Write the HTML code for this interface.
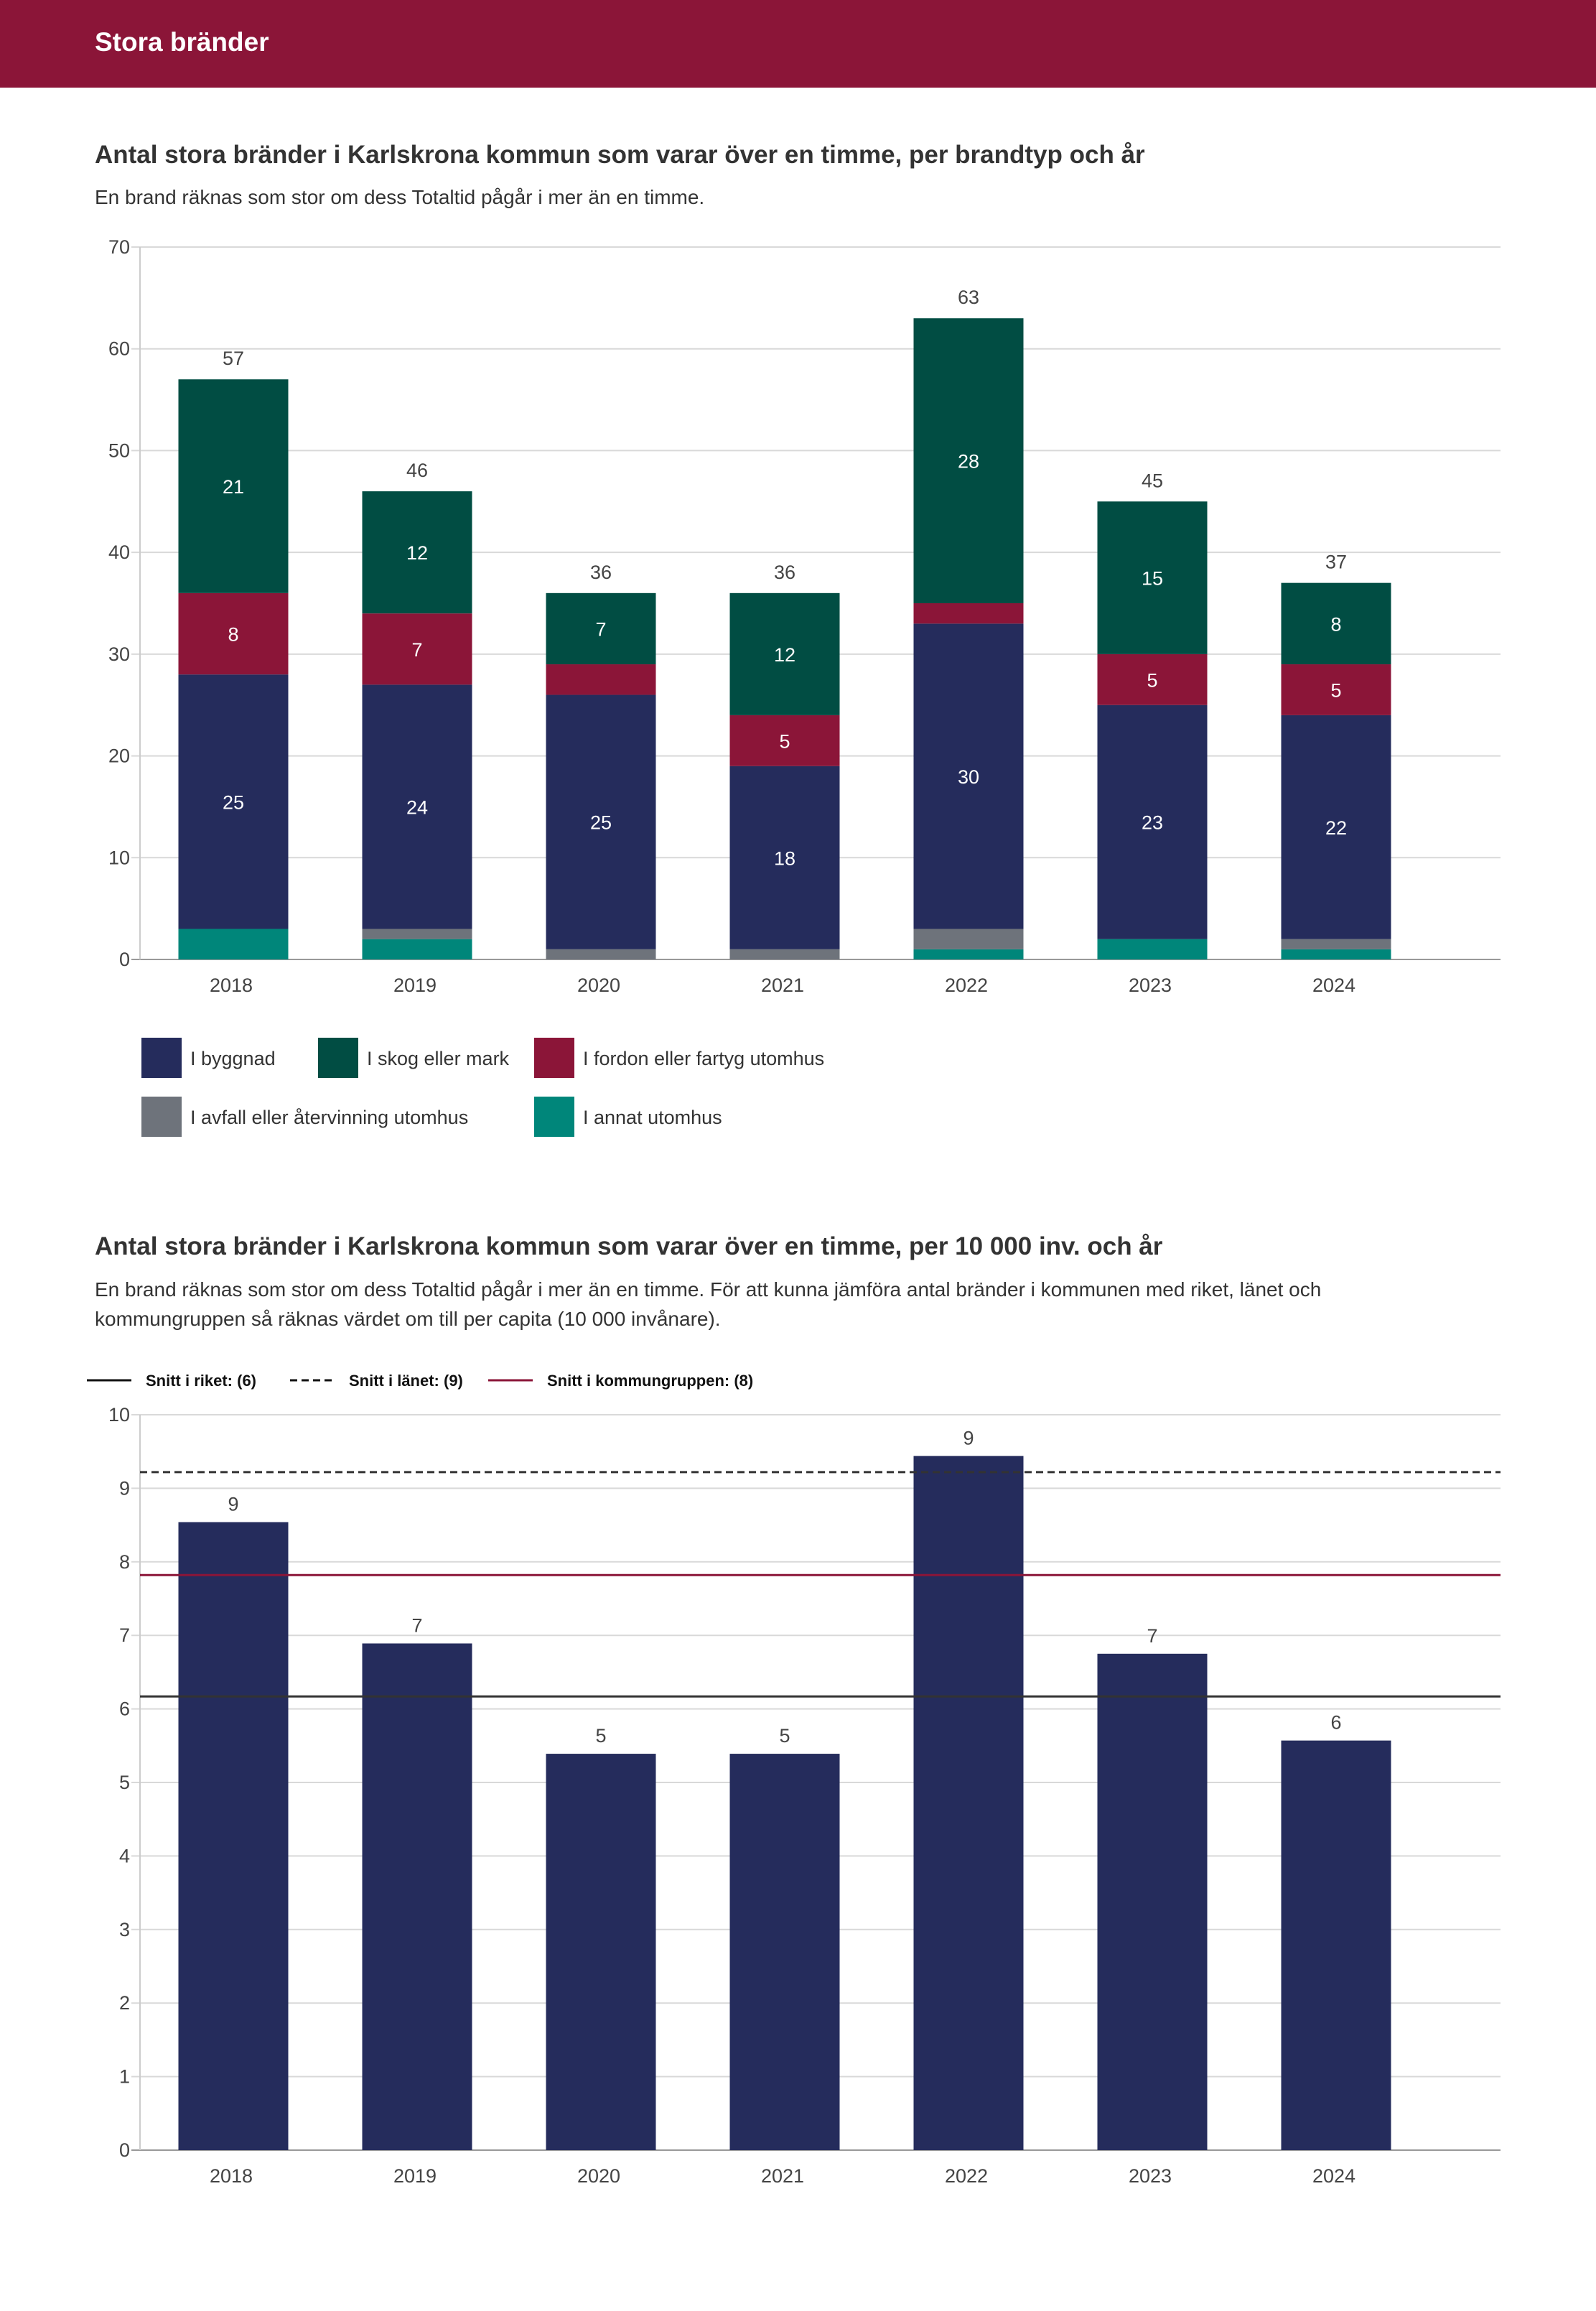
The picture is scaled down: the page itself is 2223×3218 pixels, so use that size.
<!DOCTYPE html>
<html><head><meta charset="utf-8">
<style>
html,body{margin:0;padding:0;background:#fff;}
body{width:2223px;height:3213px;overflow:hidden;font-family:"Liberation Sans",sans-serif;}
svg text{font-family:"Liberation Sans",sans-serif;}
</style></head>
<body>
<svg id="page" width="2223" height="3213" viewBox="0 0 2223 3213" xmlns="http://www.w3.org/2000/svg">
<rect x="0" y="0" width="2223" height="122" fill="#8B1538"/>
<text x="132" y="71" font-size="37" font-weight="bold" fill="#fff">Stora bränder</text>
<text x="132" y="227" font-size="35" font-weight="bold" fill="#333">Antal stora bränder i Karlskrona kommun som varar över en timme, per brandtyp och år</text>
<text x="132" y="284" font-size="28" fill="#333">En brand räknas som stor om dess Totaltid pågår i mer än en timme.</text>
<g id="c1"></g>
<g id="leg1"></g>
<text x="132" y="1747" font-size="35" font-weight="bold" fill="#333">Antal stora bränder i Karlskrona kommun som varar över en timme, per 10 000 inv. och år</text>
<text x="132" y="1805" font-size="28" fill="#333">En brand räknas som stor om dess Totaltid pågår i mer än en timme. För att kunna jämföra antal bränder i kommunen med riket, länet och</text>
<text x="132" y="1846" font-size="28" fill="#333">kommungruppen så räknas värdet om till per capita (10 000 invånare).</text>
<g id="leg2"></g>
<g id="c2"></g>
</svg>
<script>
const years = ["2018","2019","2020","2021","2022","2023","2024"];
const annat = [3,2,0,0,1,2,1];
const avfall = [0,1,1,1,2,0,1];
const byggnad = [25,24,25,18,30,23,22];
const fordon = [8,7,3,5,2,5,5];
const skog = [21,12,7,12,28,15,8];
const ticks1 = [0,10,20,30,40,50,60,70];

const perCapita = [8.54,6.89,5.39,5.39,9.44,6.75,5.57];
const perCapitaLabels = ["9","7","5","5","9","7","6"];
const ticks2 = [0,1,2,3,4,5,6,7,8,9,10];
const snittRiket = 6.17;
const snittLanet = 9.22;
const snittKommungrupp = 7.82;

const NS="http://www.w3.org/2000/svg";
function mk(parent,tag,attrs,txt){const e=document.createElementNS(NS,tag);for(const k in attrs)e.setAttribute(k,attrs[k]);if(txt!==undefined)e.textContent=txt;parent.appendChild(e);return e;}

// Chart 1
const c1=document.getElementById('c1');
const L1=195,R1=2090,T1=344,B1=1336,max1=70;
const y1=v=>B1-(v/max1)*(B1-T1);
const x1=i=>325+256*i;
const bw=153;
ticks1.forEach(t=>{
  const g=mk(c1,'line',{x1:L1-12,x2:R1,y1:y1(t),y2:y1(t),stroke:t===0?'#999':'#d9d9d9','stroke-width':2});
  
  
  const l=mk(c1,'text',{x:L1-14,y:y1(t)+9,'text-anchor':'end','font-size':27,fill:'#444'},t);
  
  
});
const ax=mk(c1,'line',{x1:L1,x2:L1,y1:T1,y2:B1,stroke:'#ccc','stroke-width':2});


const series=[{n:'annat',d:annat,c:'#00867A'},{n:'avfall',d:avfall,c:'#6E737B'},{n:'byggnad',d:byggnad,c:'#252C5C'},{n:'fordon',d:fordon,c:'#8B1538'},{n:'skog',d:skog,c:'#014D43'}];
years.forEach((yr,i)=>{
  let acc=0;
  series.forEach(s=>{
    const v=s.d[i];
    if(v>0){
      const r=mk(c1,'rect',{x:x1(i)-bw/2,y:y1(acc+v),width:bw,height:y1(acc)-y1(acc+v),fill:s.c});
      
      
      if(v>=4){
        const t=mk(c1,'text',{x:x1(i),y:y1(acc+v/2)+10,'text-anchor':'middle','font-size':27,fill:'#fff'},v);
        
        
      }
    }
    acc+=v;
  });
  const tl=mk(c1,'text',{x:x1(i),y:y1(acc)-20,'text-anchor':'middle','font-size':27,fill:'#444'},acc);
  
  
  const xl=mk(c1,'text',{x:x1(i)-3,y:B1+45,'text-anchor':'middle','font-size':27,fill:'#444'},yr);
  
  
});

// Legend 1
const leg1=document.getElementById('leg1');
const items1=[["I byggnad","#252C5C",197,1445],["I skog eller mark","#014D43",443,1445],["I fordon eller fartyg utomhus","#8B1538",744,1445],["I avfall eller återvinning utomhus","#6E737B",197,1527],["I annat utomhus","#00867A",744,1527]];
items1.forEach(it=>{
  const r=mk(leg1,'rect',{x:it[2],y:it[3],width:56,height:56,fill:it[1]});
  
  
  const t=mk(leg1,'text',{x:it[2]+68,y:it[3]+38,'font-size':27,fill:'#333'},it[0]);
  
  
});

// Legend 2
const leg2=document.getElementById('leg2');
const items2=[["Snitt i riket: (6)",121,'#111',null],["Snitt i länet: (9)",404,'#111','10,6'],["Snitt i kommungruppen: (8)",680,'#8B1538',null]];
items2.forEach(it=>{
  const a={x1:it[1],x2:it[1]+62,y1:1922,y2:1922,stroke:it[2],'stroke-width':3};
  if(it[3])a['stroke-dasharray']=it[3];
  const l=mk(leg2,'line',a);
  
  
  const t=mk(leg2,'text',{x:it[1]+82,y:1930,'font-size':22,'font-weight':'bold',fill:'#111'},it[0]);
  
  
});

// Chart 2
const c2=document.getElementById('c2');
const T2=1970,B2=2994,max2=10;
const y2=v=>B2-(v/max2)*(B2-T2);
ticks2.forEach(t=>{
  const g=mk(c2,'line',{x1:L1-12,x2:R1,y1:y2(t),y2:y2(t),stroke:t===0?'#999':'#d9d9d9','stroke-width':2});
  
  
  const l=mk(c2,'text',{x:L1-14,y:y2(t)+9,'text-anchor':'end','font-size':27,fill:'#444'},t);
  
  
});
const ax2=mk(c2,'line',{x1:L1,x2:L1,y1:T2,y2:B2,stroke:'#ccc','stroke-width':2});


years.forEach((yr,i)=>{
  const r=mk(c2,'rect',{x:x1(i)-bw/2,y:y2(perCapita[i]),width:bw,height:B2-y2(perCapita[i]),fill:'#252C5C'});
  
  
  const t=mk(c2,'text',{x:x1(i),y:y2(perCapita[i])-16,'text-anchor':'middle','font-size':27,fill:'#444'},perCapitaLabels[i]);
  
  
  const xl=mk(c2,'text',{x:x1(i)-3,y:B2+45,'text-anchor':'middle','font-size':27,fill:'#444'},yr);
  
  
});
const refs=[[snittRiket,'#333',null,'riket-line'],[snittLanet,'#333','10,6','lanet-line'],[snittKommungrupp,'#8B1538',null,'kommungrupp-line']];
refs.forEach(r=>{
  const a={x1:L1,x2:R1,y1:y2(r[0]),y2:y2(r[0]),stroke:r[1],'stroke-width':3};
  if(r[2])a['stroke-dasharray']=r[2];
  const l=mk(c2,'line',a);
  
  
});
</script>
</body></html>
